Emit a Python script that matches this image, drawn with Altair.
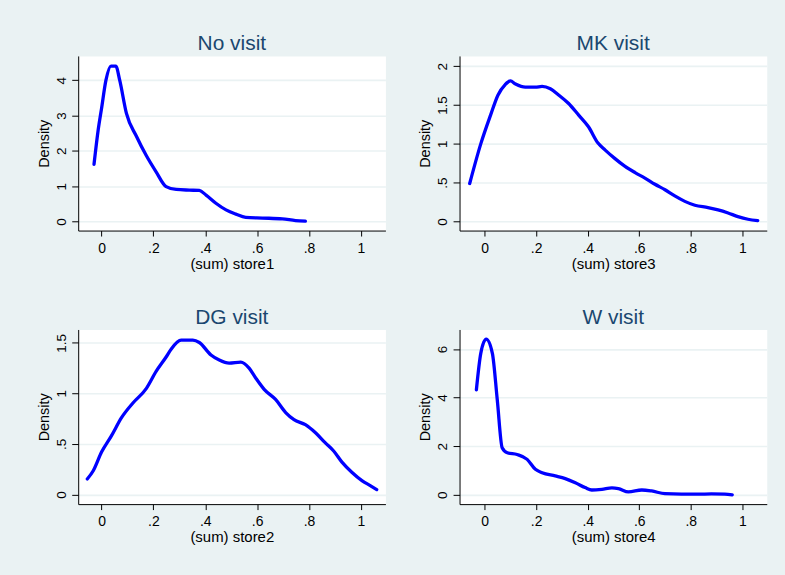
import altair as alt
import pandas as pd

# ---- data (kernel density curves) ----
# No visit : (sum) store1
x_store1 = [-0.029, -0.013, 0.0, 0.017, 0.036, 0.055, 0.070, 0.096, 0.134, 0.173, 0.211, 0.249,
            0.288, 0.339, 0.377, 0.403, 0.441, 0.480, 0.518, 0.556, 0.620, 0.697, 0.748, 0.786]
y_store1 = [1.62, 2.59, 3.20, 4.00, 4.40, 4.40, 4.00, 3.06, 2.42, 1.86, 1.40, 0.99,
            0.91, 0.89, 0.88, 0.75, 0.52, 0.33, 0.21, 0.12, 0.10, 0.075, 0.03, 0.01]

# MK visit : (sum) store3
x_store3 = [-0.058, -0.015, 0.023, 0.052, 0.079, 0.100, 0.120, 0.158, 0.197, 0.223, 0.255, 0.287,
            0.326, 0.365, 0.403, 0.440, 0.468, 0.506, 0.545, 0.584, 0.622, 0.661, 0.700, 0.738,
            0.777, 0.816, 0.867, 0.906, 0.945, 0.983, 1.022, 1.060]
y_store3 = [0.49, 1.00, 1.37, 1.63, 1.76, 1.81, 1.77, 1.73, 1.73, 1.74, 1.71, 1.63,
            1.52, 1.37, 1.22, 1.01, 0.92, 0.81, 0.71, 0.63, 0.56, 0.48, 0.41, 0.33,
            0.26, 0.21, 0.18, 0.15, 0.11, 0.064, 0.03, 0.013]

# DG visit : (sum) store2
x_store2 = [-0.055, -0.032, 0.0, 0.038, 0.077, 0.121, 0.173, 0.211, 0.249, 0.269, 0.307, 0.352,
            0.377, 0.422, 0.454, 0.492, 0.537, 0.569, 0.595, 0.627, 0.671, 0.710, 0.742, 0.786,
            0.825, 0.863, 0.895, 0.927, 0.965, 1.004, 1.036, 1.061]
y_store2 = [0.154, 0.235, 0.42, 0.58, 0.76, 0.905, 1.05, 1.22, 1.36, 1.44, 1.526, 1.526,
            1.503, 1.38, 1.33, 1.30, 1.31, 1.25, 1.15, 1.04, 0.94, 0.81, 0.74, 0.69,
            0.61, 0.51, 0.43, 0.32, 0.22, 0.137, 0.088, 0.049]

# W visit : (sum) store4
x_store4 = [-0.032, -0.015, 0.006, 0.030, 0.049, 0.068, 0.088, 0.126, 0.165, 0.197, 0.223, 0.274,
            0.313, 0.352, 0.390, 0.416, 0.455, 0.494, 0.519, 0.558, 0.610, 0.648, 0.700, 0.764,
            0.829, 0.880, 0.932, 0.961]
y_store4 = [4.32, 5.82, 6.40, 5.82, 3.91, 1.94, 1.73, 1.66, 1.46, 1.05, 0.91, 0.78,
            0.67, 0.50, 0.30, 0.20, 0.23, 0.29, 0.26, 0.12, 0.20, 0.16, 0.05, 0.03,
            0.03, 0.04, 0.03, 0.0]

x_ticks = [0, 0.2, 0.4, 0.6, 0.8, 1]

FONT = "Liberation Sans"
BG = "#EAF2F3"
LABEL_EXPR = "datum.value > 0 && datum.value < 1 ? slice(datum.label, 1) : datum.label"

W, H = 308.4, 175.3


def panel(xs, ys, title, xtitle, xdom, ydom, yticks):
    df = pd.DataFrame({"x": xs, "y": ys})
    return alt.Chart(df).mark_line(
        color="#0000FF", strokeWidth=3.3, interpolate="monotone", strokeCap="round",
        strokeJoin="round"
    ).encode(
        x=alt.X("x:Q",
                scale=alt.Scale(domain=xdom, nice=False, zero=False),
                axis=alt.Axis(values=x_ticks, format="~g", labelExpr=LABEL_EXPR, title=xtitle,
                              grid=False, tickSize=5.5, labelBaseline="alphabetic",
                              labelPadding=16.3, labelFontSize=14, labelFlush=False,
                              labelOverlap=False, titleY=38, titleX=W / 2,
                              titleBaseline="alphabetic", titleAlign="center",
                              titleFontSize=15)),
        y=alt.Y("y:Q",
                scale=alt.Scale(domain=ydom, nice=False, zero=False),
                axis=alt.Axis(values=yticks, format="~g", labelExpr=LABEL_EXPR, title="Density",
                              grid=True, tickSize=6.5, labelAngle=270, labelAlign="center",
                              labelBaseline="alphabetic", labelPadding=6.5, labelFontSize=13.5,
                              labelFlush=False, labelOverlap=False, titleAngle=270,
                              titleX=-30, titleY=H / 2, titleBaseline="alphabetic",
                              titleAlign="center", titleFontSize=14.5)),
    ).properties(
        width=W, height=H,
        title=alt.TitleParams(text=title, fontSize=21, font=FONT, fontWeight="normal",
                              color="#1A476F", baseline="alphabetic", offset=-15,
                              anchor="middle", frame="group"),
    )


p1 = panel(x_store1, y_store1, "No visit", "(sum) store1", [-0.090, 1.0946], [-0.254, 4.686], [0, 1, 2, 3, 4])
p2 = panel(x_store3, y_store3, "MK visit", "(sum) store3", [-0.0974, 1.095], [-0.1156, 2.132], [0, 0.5, 1, 1.5, 2])
p3 = panel(x_store2, y_store2, "DG visit", "(sum) store2", [-0.090, 1.0946], [-0.095, 1.632], [0, 0.5, 1, 1.5])
p4 = panel(x_store4, y_store4, "W visit", "(sum) store4", [-0.0974, 1.095], [-0.38, 6.80], [0, 2, 4, 6])

chart = alt.concat(
    p1, p2, p3, p4, columns=2,
    spacing=alt.RowColnumber(row=98.6, column=73.8),
    bounds="flush",
).properties(
    background=BG,
    padding={"left": 36.5, "top": 32, "right": 17.5, "bottom": 50},
).configure_view(
    fill="white", strokeOpacity=0,
).configure_axis(
    labelFont=FONT, titleFont=FONT, labelColor="#000000", titleColor="#000000",
    titleFontWeight="normal", domainColor="#000000", domainWidth=1, tickColor="#000000",
    tickWidth=1, gridColor=BG, gridWidth=1.6,
)

chart.save("out.html", embed_options={"renderer": "svg", "actions": False})
